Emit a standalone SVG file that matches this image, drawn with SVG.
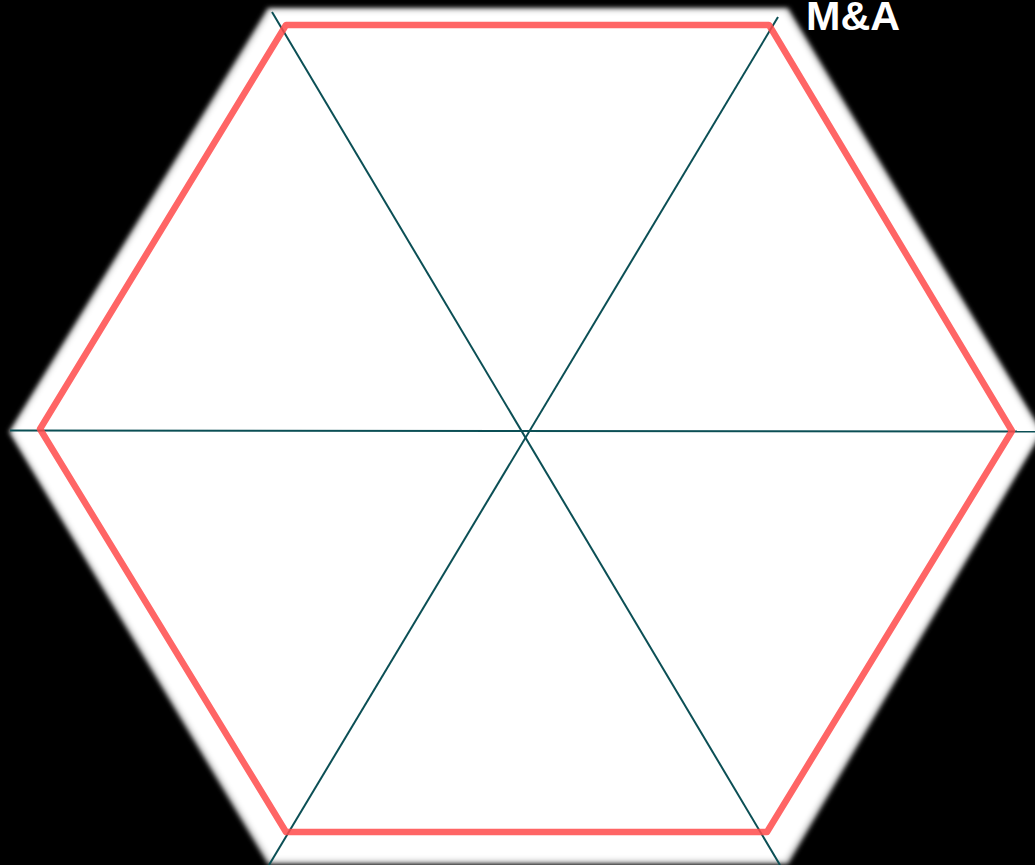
<svg xmlns="http://www.w3.org/2000/svg" width="1035" height="865" viewBox="0 0 1035 865">
<defs>
<filter id="soft" x="-5%" y="-5%" width="110%" height="110%">
<feGaussianBlur stdDeviation="2.5"/>
</filter>
</defs>
<style>
.spoke{stroke:#0b4f55;stroke-width:2;fill:none}
.rim{fill:none;stroke:#ff4a4a;stroke-opacity:0.85;stroke-width:6.5;stroke-linejoin:round}
.label{font-family:"Liberation Sans",Arial,sans-serif;font-weight:bold;font-size:40px;fill:#ffffff}
</style>
<rect width="1035" height="865" fill="#000000"/>
<g id="hexagon">
<polygon points="268,8 788,8 1042,432 788,864 268,864 9,432" fill="#cfcfcf" filter="url(#soft)"/>
<polygon points="271,11 785,11 1038,432 785,860 271,860 13,432" fill="#ffffff" filter="url(#soft)"/>
</g>
<g id="connectors">
<line class="spoke" x1="10" y1="430.5" x2="1035" y2="431.5"/>
<line class="spoke" x1="272" y1="12" x2="780" y2="865"/>
<line class="spoke" x1="778" y1="17" x2="269" y2="865"/>
</g>
<g id="outline">
<polygon class="rim" points="286,25 769,25 1012,431 767,832 286,832 40,429"/>
</g>
<g id="label-ma">
<text class="label" x="806" y="30" textLength="94" lengthAdjust="spacingAndGlyphs">M&amp;A</text>
</g>
</svg>
